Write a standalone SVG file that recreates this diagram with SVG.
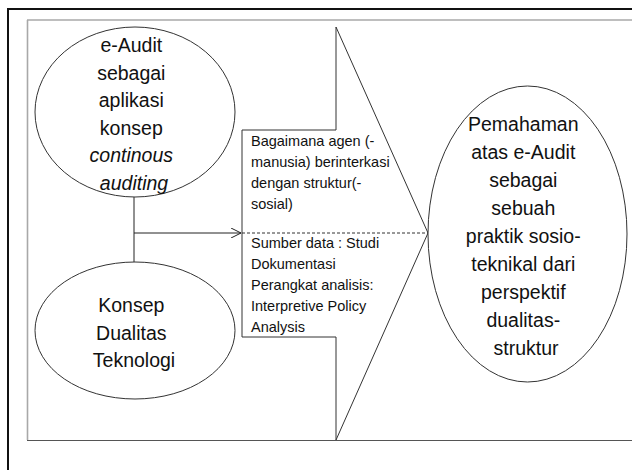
<svg xmlns="http://www.w3.org/2000/svg" width="632" height="470" viewBox="0 0 632 470">
<defs>
<marker id="arr" markerWidth="12" markerHeight="10" refX="10" refY="5" orient="auto" markerUnits="userSpaceOnUse">
<path d="M0,0 L10,5 L0,10" fill="none" stroke="#222" stroke-width="1"/>
</marker>
<style>
.shape{fill:#fff;stroke:#333;stroke-width:1}
.big{font-size:19.5px;fill:#111;text-anchor:middle}
.small{font-size:14.5px;fill:#111}
.conn{stroke:#222;stroke-width:1;fill:none}
</style>
</defs>
<rect width="632" height="470" fill="#fff"/>
<g id="frame">
<line x1="8" y1="9" x2="632" y2="9" stroke="#111" stroke-width="2"/>
<line x1="8" y1="8" x2="8" y2="470" stroke="#111" stroke-width="2"/>
<line x1="27" y1="20" x2="632" y2="20" stroke="#a8a8a8" stroke-width="1.6"/>
<line x1="27.5" y1="20" x2="27.5" y2="440" stroke="#a8a8a8" stroke-width="1.6"/>
<line x1="27" y1="440.5" x2="632" y2="440.5" stroke="#555" stroke-width="1.2"/>
</g>
<g id="process">
<polygon class="shape" points="242,130 336,130 336,27 428,233 336,440 336,337 242,337"/>
<line x1="242" y1="233" x2="428" y2="233" stroke="#333" stroke-width="1" stroke-dasharray="3,2"/>
<text class="small" font-family="'Liberation Sans', Arimo, sans-serif">
<tspan x="251" y="146">Bagaimana agen (-</tspan>
<tspan x="251" y="167">manusia) berinterkasi</tspan>
<tspan x="251" y="188">dengan struktur(-</tspan>
<tspan x="251" y="209">sosial)</tspan>
<tspan x="251" y="248">Sumber data : Studi</tspan>
<tspan x="251" y="269">Dokumentasi</tspan>
<tspan x="251" y="290">Perangkat analisis:</tspan>
<tspan x="251" y="311">Interpretive Policy</tspan>
<tspan x="251" y="332">Analysis</tspan>
</text>
</g>
<g id="connectors">
<line class="conn" x1="134" y1="197" x2="134" y2="262"/>
<line class="conn" x1="134" y1="233" x2="241" y2="233" marker-end="url(#arr)"/>
</g>
<g id="eaudit">
<ellipse class="shape" cx="135" cy="112" rx="100" ry="85"/>
<text class="big" font-family="'Liberation Sans', Arimo, sans-serif">
<tspan x="134" y="52">e-Audit</tspan>
<tspan x="134" y="79.5">sebagai</tspan>
<tspan x="134" y="107">aplikasi</tspan>
<tspan x="134" y="134.5">konsep</tspan>
<tspan x="134" y="162" font-style="italic">continous</tspan>
<tspan x="134" y="189.5" font-style="italic">auditing</tspan>
</text>
</g>
<g id="dualitas">
<ellipse class="shape" cx="135" cy="330.5" rx="100" ry="68.5"/>
<text class="big" font-family="'Liberation Sans', Arimo, sans-serif">
<tspan x="134" y="312">Konsep</tspan>
<tspan x="134" y="339.5">Dualitas</tspan>
<tspan x="134" y="367">Teknologi</tspan>
</text>
</g>
<g id="pemahaman">
<ellipse class="shape" cx="527.5" cy="234" rx="99.5" ry="148"/>
<text class="big" font-family="'Liberation Sans', Arimo, sans-serif">
<tspan x="526" y="131">Pemahaman</tspan>
<tspan x="526" y="159">atas e-Audit</tspan>
<tspan x="526" y="187">sebagai</tspan>
<tspan x="526" y="215">sebuah</tspan>
<tspan x="526" y="243">praktik sosio-</tspan>
<tspan x="526" y="271">teknikal dari</tspan>
<tspan x="526" y="299">perspektif</tspan>
<tspan x="526" y="327">dualitas-</tspan>
<tspan x="526" y="355">struktur</tspan>
</text>
</g>
</svg>
